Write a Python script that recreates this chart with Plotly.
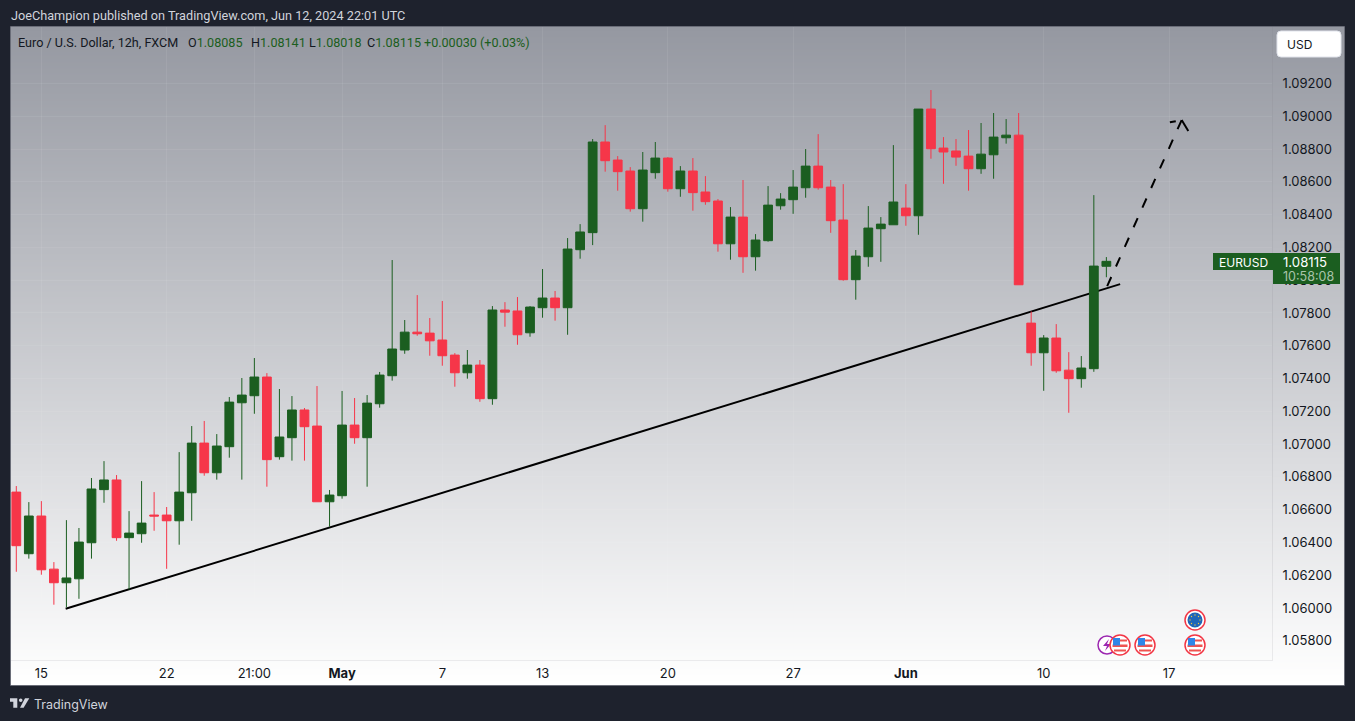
import base64, struct, zlib
import plotly.graph_objects as go

W, H = 1355, 721
PL, PR, PT, PB = 11, 1272, 27, 660

opens = [1.06707,1.06331,1.06561,1.06237,1.06154,1.06178,1.06398,1.06722,1.06781,1.06429,1.06453,1.06567,1.06567,1.06532,1.06703,1.07006,1.06825,1.06984,1.07252,1.07295,1.07409,1.06923,1.07039,1.07208,1.07110,1.06648,1.06685,1.07116,1.07039,1.07246,1.07417,
1.07574,1.07683,1.07677,1.07635,1.07543,1.07435,1.07482,1.07277,1.07818,1.07812,1.07679,1.07832,1.07891,1.07832,1.08186,1.08290,1.08843,1.08733,1.08666,1.08436,1.08656,1.08745,1.08558,1.08666,1.08538,1.08483,1.08222,1.08385,1.08143,
1.08241,1.08454,1.08491,1.08564,1.08696,1.08568,1.08367,1.08003,1.08143,1.08314,1.08338,1.08440,1.08393,1.09044,1.08806,1.08788,1.08757,1.08680,1.08765,1.08869,1.08885,1.07738,1.07557,1.07647,1.07451,1.07399,1.07460,1.08085]
highs = [1.06744,1.06646,1.06652,1.06280,1.06536,1.06488,1.06793,1.06896,1.06811,1.06591,1.06774,1.06707,1.06616,1.06951,1.07110,1.07141,1.07061,1.07287,1.07403,1.07525,1.07433,1.07336,1.07293,1.07220,1.07354,1.06720,1.07324,1.07281,1.07299,1.07440,1.08123,
1.07757,1.07909,1.07769,1.07873,1.07555,1.07574,1.07513,1.07842,1.07866,1.07897,1.07842,1.08068,1.07934,1.08257,1.08342,1.08861,1.08946,1.08757,1.08690,1.08782,1.08843,1.08751,1.08696,1.08745,1.08635,1.08495,1.08446,1.08611,1.08281,
1.08574,1.08531,1.08672,1.08800,1.08891,1.08611,1.08586,1.08184,1.08452,1.08385,1.08824,1.08586,1.09044,1.09160,1.08873,1.08861,1.08916,1.08959,1.09020,1.08983,1.09020,1.07809,1.07665,1.07732,1.07561,1.07537,1.08519,1.08141]
lows = [1.06221,1.06301,1.06203,1.06020,1.06004,1.06056,1.06301,1.06642,1.06410,1.06113,1.06398,1.06471,1.06239,1.06386,1.06532,1.06807,1.06783,1.06917,1.06783,1.07185,1.06740,1.06905,1.06899,1.06899,1.06648,1.06496,1.06667,1.07002,1.06740,1.07222,1.07387,
1.07551,1.07661,1.07539,1.07478,1.07350,1.07399,1.07258,1.07240,1.07716,1.07606,1.07655,1.07771,1.07753,1.07667,1.08131,1.08214,1.08662,1.08546,1.08418,1.08357,1.08619,1.08540,1.08509,1.08424,1.08460,1.08174,1.08125,1.08045,1.08058,
1.08235,1.08430,1.08405,1.08503,1.08552,1.08289,1.07997,1.07881,1.08082,1.08112,1.08338,1.08332,1.08277,1.08741,1.08588,1.08698,1.08546,1.08649,1.08619,1.08833,1.07972,1.07478,1.07325,1.07435,1.07191,1.07344,1.07441,1.08018]
closes = [1.06380,1.06561,1.06233,1.06154,1.06183,1.06402,1.06726,1.06781,1.06429,1.06457,1.06518,1.06561,1.06532,1.06707,1.07006,1.06825,1.06988,1.07256,1.07299,1.07409,1.06905,1.07043,1.07208,1.07106,1.06648,1.06689,1.07116,1.07039,1.07250,1.07421,1.07580,
1.07683,1.07673,1.07630,1.07539,1.07435,1.07482,1.07277,1.07818,1.07805,1.07667,1.07836,1.07891,1.07832,1.08190,1.08294,1.08843,1.08729,1.08662,1.08436,1.08672,1.08745,1.08558,1.08666,1.08534,1.08479,1.08222,1.08385,1.08143,1.08245,
1.08458,1.08495,1.08568,1.08696,1.08564,1.08363,1.08003,1.08147,1.08318,1.08342,1.08477,1.08393,1.09044,1.08802,1.08782,1.08751,1.08680,1.08769,1.08873,1.08885,1.07972,1.07557,1.07647,1.07447,1.07399,1.07464,1.08086,1.08115]
candle_index = list(range(len(opens)))

date_tick_index = [2, 12, 19, 26, 34, 42, 52, 62, 71, 82, 92]
date_tick_labels = ["15", "22", "21:00", "<b>May</b>", "7", "13", "20", "27", "<b>Jun</b>", "10", "17"]
price_ticks = [1.058, 1.060, 1.062, 1.064, 1.066, 1.068, 1.070, 1.072, 1.074,
               1.076, 1.078, 1.080, 1.082, 1.084, 1.086, 1.088, 1.090, 1.092]

trend_x = [3.94, 88.1]
trend_y = [1.05995, 1.07976]
proj_x = [93.01, 87.02]
proj_y = [1.08977, 1.07956]
head_left_x = [92.07, 93.01]
head_left_y = [1.08963, 1.08977]
head_right_x = [93.01, 93.54]
head_right_y = [1.08977, 1.08910]

X_RANGE = [-0.423, 100.22]
Y_RANGE = [1.056826, 1.095447]
GREEN, RED = "#1b5e20", "#f63649"
DARK = "#1e222d"
UI = "Inter, Roboto, sans-serif"
HEAD = "Roboto, Inter, sans-serif"


def px(x):
    return (x - PL) / (PR - PL)


def py(y):
    return (PB - y) / (PB - PT)


def gradient_png(height=658, top=(149, 152, 161), bottom=(255, 255, 255)):
    rows = b""
    for r in range(height):
        t = r / (height - 1)
        rows += b"\x00" + bytes(round(a + (b - a) * t) for a, b in zip(top, bottom))

    def chunk(tag, data):
        return struct.pack(">I", len(data)) + tag + data + struct.pack(">I", zlib.crc32(tag + data))

    raw = b"\x89PNG\r\n\x1a\n" + chunk(b"IHDR", struct.pack(">IIBBBBB", 1, height, 8, 2, 0, 0, 0)) \
        + chunk(b"IDAT", zlib.compress(rows)) + chunk(b"IEND", b"")
    return "data:image/png;base64," + base64.b64encode(raw).decode()


def rect(x0, y0, x1, y1, fill, line=None, lw=0, layer="above"):
    return dict(type="rect", xref="paper", yref="paper", x0=px(x0), x1=px(x1), y0=py(y0), y1=py(y1),
                fillcolor=fill, line=dict(color=line or fill, width=lw), layer=layer)


def circle(cx, cy, r, fill, line=None, lw=0):
    return dict(type="circle", xref="paper", yref="paper", x0=px(cx - r), x1=px(cx + r), y0=py(cy + r), y1=py(cy - r),
                fillcolor=fill, line=dict(color=line or fill, width=lw), layer="above")


def poly(points, fill):
    path = "M" + " L".join(f"{px(a)},{py(b)}" for a, b in points) + " Z"
    return dict(type="path", xref="paper", yref="paper", path=path, fillcolor=fill, line=dict(width=0), layer="above")


def rounded(x0, y0, x1, y1, r, fill, line):
    a, b, c, d = px(x0), px(x1), py(y0), py(y1)
    rx, ry = r / (PR - PL), r / (PB - PT)
    path = (f"M{a+rx},{c} L{b-rx},{c} Q{b},{c} {b},{c-ry} L{b},{d+ry} Q{b},{d} {b-rx},{d} "
            f"L{a+rx},{d} Q{a},{d} {a},{d+ry} L{a},{c-ry} Q{a},{c} {a+rx},{c} Z")
    return dict(type="path", xref="paper", yref="paper", path=path, fillcolor=fill,
                line=dict(color=line, width=1), layer="above")


def us_flag(cx, cy):
    out = [circle(cx, cy, 10, "white", "#f23645", 1.5)]
    out += [rect(cx - 7.5, cy - 0.5, cx + 7.5, cy + 2, "#ef5350"), rect(cx - 6, cy + 4.5, cx + 6, cy + 6.5, "#ef5350"),
            rect(cx - 5, cy - 5.5, cx + 7, cy - 3.5, "#ef5350"), rect(cx - 7, cy - 7, cx, cy + 0.5, "#2f86e8")]
    return out


def eu_flag(cx, cy):
    out = [circle(cx, cy, 10, "white", "#f23645", 1.5), circle(cx, cy, 7.5, "#1f66b8")]
    for dx, dy in [(0, -5), (3.5, -3.5), (5, 0), (3.5, 3.5), (0, 5), (-3.5, 3.5), (-5, 0), (-3.5, -3.5)]:
        out.append(circle(cx + dx, cy + dy, 0.7, "#f2c23c"))
    return out


def text(x, y, s, size=13, color="#131722", family=UI):
    return dict(xref="paper", yref="paper", x=px(x), y=py(y), text=s, showarrow=False, xanchor="left", yanchor="middle",
                font=dict(family=family, size=size, color=color), align="left", borderpad=0)


fig = go.Figure()
fig.add_trace(go.Scatter(x=trend_x, y=trend_y, mode="lines", line=dict(color="#000000", width=2), hoverinfo="skip"))
fig.add_trace(go.Scatter(x=proj_x, y=proj_y, mode="lines", hoverinfo="skip",
                         line=dict(color="#000000", width=2, dash="10px,11.5px")))
fig.add_trace(go.Scatter(x=head_left_x, y=head_left_y, mode="lines", hoverinfo="skip",
                         line=dict(color="#000000", width=2, dash="6px,7px")))
fig.add_trace(go.Scatter(x=head_right_x, y=head_right_y, mode="lines", hoverinfo="skip",
                         line=dict(color="#000000", width=2)))
fig.add_trace(go.Candlestick(
    x=candle_index, open=opens, high=highs, low=lows, close=closes, xaxis="x2", yaxis="y2",
    increasing=dict(line=dict(color=GREEN, width=1), fillcolor=GREEN),
    decreasing=dict(line=dict(color=RED, width=1), fillcolor=RED),
    whiskerwidth=0, hoverinfo="skip"))

GRID = "rgba(255,255,255,0.07)"
AXIS = "rgba(120,123,134,0.13)"
LOGO = "#d1d4dc"
HS = 12.6
shapes = [rect(10.5, 26.5, 1344.5, 685.5, "rgba(0,0,0,0)", "#6a6d78", 1),
          rect(1213, 253, 1273, 270, GREEN), rect(1273, 253, 1340, 284, GREEN),
          rounded(1277, 31, 1341, 57, 4, "#ffffff", "#e0e3eb"),
          circle(1107, 645, 9, "white", "#9c27b0", 1.5),
          poly([(1109, 639), (1103, 646), (1107, 646), (1105, 651), (1111, 644), (1107, 644)], "#9c27b0"),
          poly([(10, 698.3), (17.3, 698.3), (17.3, 707.7), (13.3, 707.7), (13.3, 701.7), (10, 701.7)], LOGO),
          circle(20.7, 700.3, 1.8, LOGO),
          poly([(20, 707.7), (25, 698.3), (29.3, 698.3), (23.6, 707.7)], LOGO)]
shapes += us_flag(1120, 645) + us_flag(1145, 645) + us_flag(1195, 645) + eu_flag(1195, 620)

annotations = [
    text(9.5, 15, "JoeChampion published on TradingView.com, Jun 12, 2024 22:01 UTC", 12.7, "#d1d4dc", HEAD),
    text(16.8, 42.5, "Euro / U.S. Dollar, 12h, FXCM", HS, "#131722", HEAD),
    text(187, 42.5, f'O<span style="color:{GREEN}">1.08085</span>', HS, "#131722", HEAD),
    text(249.5, 42.5, f'H<span style="color:{GREEN}">1.08141</span>', HS, "#131722", HEAD),
    text(307.8, 42.5, f'L<span style="color:{GREEN}">1.08018</span>', HS, "#131722", HEAD),
    text(365.8, 42.5, f'C<span style="color:{GREEN}">1.08115</span>', HS, "#131722", HEAD),
    text(423, 42.5, f'<span style="color:{GREEN}">+0.00030 (+0.03%)</span>', HS, "#131722", HEAD),
    text(1285.5, 44, "USD", 12),
    text(1217.5, 262, "EURUSD", 12, "#ffffff"),
    text(1282, 262, "1.08115", 13.2, "#ffffff"),
    text(1282, 276, "10:58:08", 12.5, "#a9c4aa"),
    text(33, 704.5, "TradingView", 12.5, "#d1d4dc"),
]

fig.update_layout(
    width=W, height=H, paper_bgcolor=DARK, plot_bgcolor="rgba(0,0,0,0)", showlegend=False,
    margin=dict(l=PL, r=W - PR, t=PT, b=H - PB, autoexpand=False), hovermode=False,
    font=dict(family=UI, size=13, color="#131722"),
    images=[dict(source=gradient_png(), xref="paper", yref="paper", x=px(11), y=py(27),
                 sizex=(1344 - 11) / (PR - PL), sizey=(685 - 27) / (PB - PT),
                 xanchor="left", yanchor="top", sizing="stretch", layer="below")],
    shapes=shapes, annotations=annotations,
    xaxis=dict(range=X_RANGE, tickmode="array", tickvals=date_tick_index, ticktext=date_tick_labels,
               showgrid=True, gridcolor=GRID, gridwidth=1, zeroline=False, showline=True,
               linecolor=AXIS, linewidth=1, ticks="outside", ticklen=1,
               tickcolor="rgba(0,0,0,0)", tickfont=dict(size=13, color="#131722", family=UI)),
    yaxis=dict(range=Y_RANGE, side="right", tickmode="array", tickvals=price_ticks, tickformat=".5f",
               showgrid=True, gridcolor=GRID, gridwidth=1, zeroline=False, showline=True,
               linecolor=AXIS, linewidth=1, ticks="outside", ticklen=7,
               tickcolor="rgba(0,0,0,0)", tickfont=dict(size=13, color="#131722", family=UI)),
    xaxis2=dict(range=X_RANGE, overlaying="x", visible=False, rangeslider=dict(visible=False)),
    yaxis2=dict(range=Y_RANGE, overlaying="y", side="right", visible=False),
    boxgap=0.3, boxgroupgap=0,
)

fig.write_html("out.html", config=dict(displayModeBar=False, staticPlot=True),
               post_script="document.body.style.margin='0';document.body.style.overflow='hidden';")
